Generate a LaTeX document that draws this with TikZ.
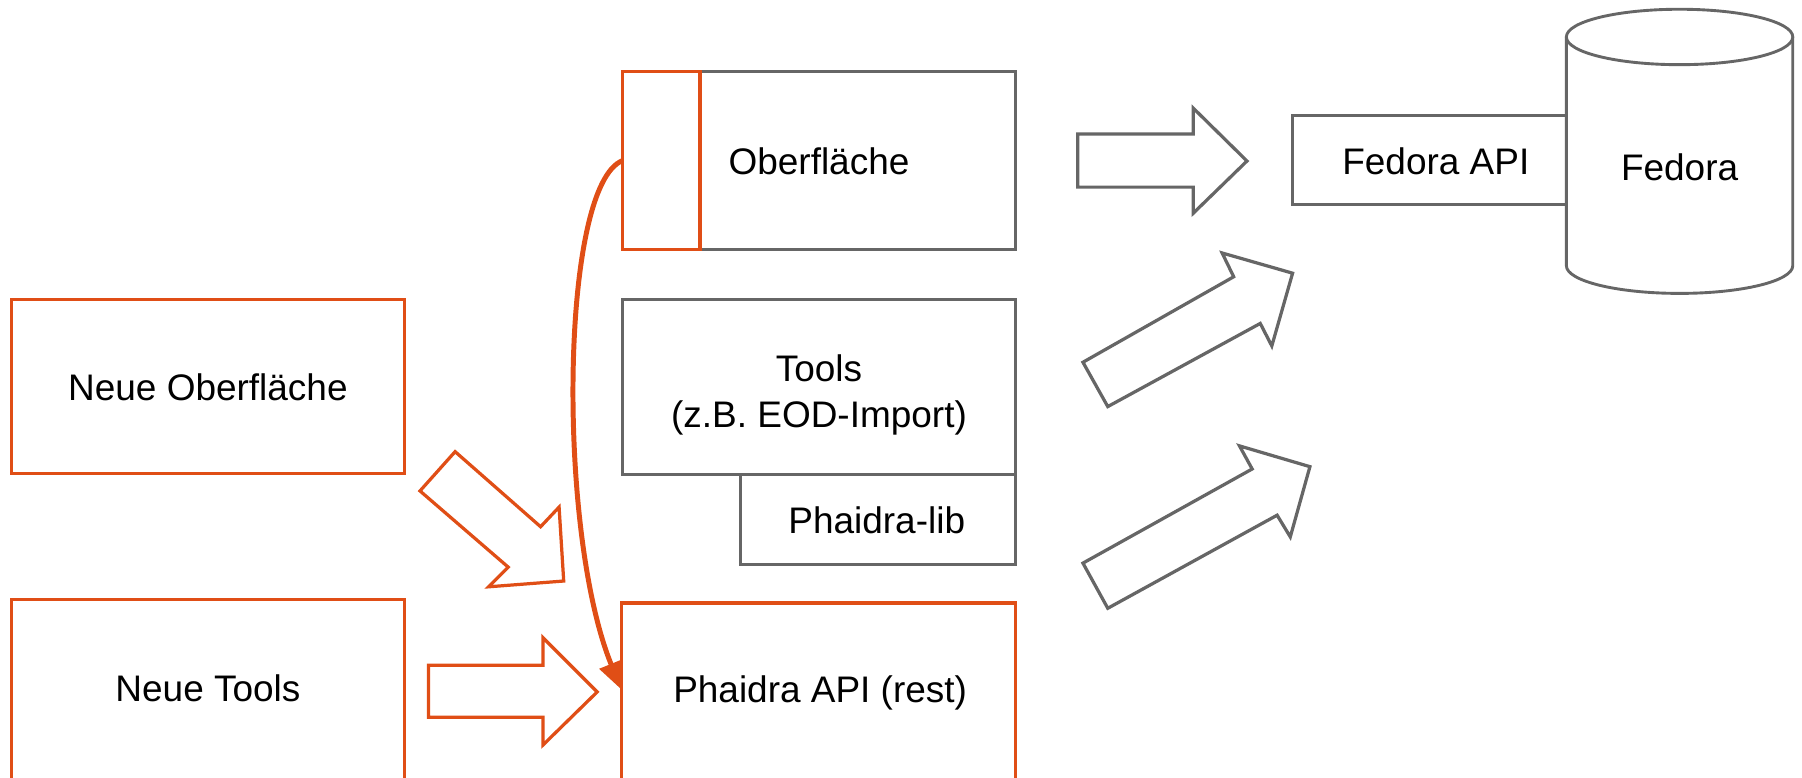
\documentclass[tikz,border=0pt]{standalone}
\usepackage{fontspec}
\setmainfont{Liberation Sans}
\usetikzlibrary{arrows.meta}
\definecolor{og}{RGB}{224,78,22}
\definecolor{gr}{RGB}{102,102,102}
\begin{document}
\begin{tikzpicture}[x=1pt,y=-1pt,
  gbox/.style={draw=gr,line width=2.5pt,fill=white,inner sep=0pt,outer sep=0pt},
  obox/.style={draw=og,line width=2.8pt,inner sep=0pt,outer sep=0pt},
  txt/.style={font=\fontsize{32}{40}\selectfont,align=center,inner sep=0pt},
  garrow/.style={draw=gr,line width=2.8pt,line join=miter,fill=white},
  oarrow/.style={draw=og,line width=2.8pt,line join=miter,fill=white}]
\useasboundingbox (0,0) rectangle (1560,673.5);

% left boxes
\node[obox,minimum width=340pt,minimum height=151pt] (nobf) at (180,334.5) {};
\node[txt] (nobfT) at (180,335) {Neue Oberfläche};
\node[obox,minimum width=340pt,minimum height=200pt] (ntools) at (180,619) {};
\node[txt] (ntoolsT) at (180,596) {Neue Tools};

% middle boxes
\node[gbox,minimum width=340pt,minimum height=154pt] (obf) at (709,139) {};
\node[obox,minimum width=67pt,minimum height=154pt] (ofl) at (572.5,139) {};
\node[txt] (obfT) at (709,140) {Oberfläche};
\node[gbox,minimum width=340pt,minimum height=152pt] (tools) at (709,335) {};
\node[txt] (toolsT) at (709,342) {Tools\\(z.B. EOD-Import)};
\node[gbox,minimum width=238pt,minimum height=78pt] (plib) at (760,450) {};
\node[txt] (plibT) at (759,450) {Phaidra-lib};
\node[obox,minimum width=341pt,minimum height=180pt] (papi) at (708.5,612) {};
\node[txt] (papiT) at (710,600) {Phaidra API (rest)};

% Fedora API and cylinder
\node[gbox,minimum width=237pt,minimum height=77pt] (fapi) at (1237.5,138.5) {};
\node[txt] (fapiT) at (1243,140) {Fedora API};
\draw[draw=gr,line width=2.5pt,fill=white]
  (1356,32) -- (1356,230) arc[start angle=180,end angle=0,x radius=98,y radius=24] -- (1552,32);
\draw[draw=gr,line width=2.5pt,fill=white] (1454,32) ellipse[x radius=98,y radius=24];
\node[txt] (fedora) at (1454,145) {Fedora};

% grey block arrows
\draw[garrow] (933,116) -- (1033,116) -- (1033,93.6) -- (1079.5,139.4) -- (1033,184.6) -- (1033,162) -- (933,162) -- cycle;
\draw[garrow] (937.5,313.6) -- (1068,239.6) -- (1058,219) -- (1119,236.5) -- (1101,299.5) -- (1091,280) -- (959,352) -- cycle;
\draw[garrow] (937.5,487.5) -- (1084,406) -- (1073,386) -- (1134,404) -- (1117,464.8) -- (1105.6,446) -- (959,526.6) -- cycle;

% orange block arrows
\draw[oarrow] (363.6,425) -- (394,391) -- (468,456) -- (484,439) -- (488,503) -- (423,508) -- (440,491) -- cycle;
\draw[oarrow] (371,576) -- (470,576) -- (470,552) -- (517,599) -- (470,645) -- (470,621) -- (371,621) -- cycle;

% curved connector
\draw[draw=og,line width=4.3pt,-{Triangle[length=24pt,width=21pt]}]
  (ofl.west) .. controls (485,160) and (482,460) .. ([yshift=-75pt]papi.north west);
\end{tikzpicture}
\end{document}
